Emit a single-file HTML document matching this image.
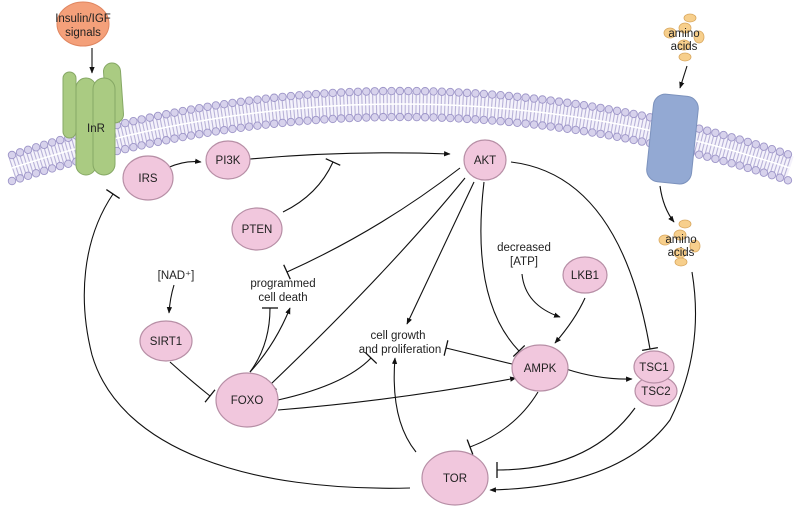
<!DOCTYPE html>
<html><head><meta charset="utf-8"><style>
html,body{margin:0;padding:0;background:#fff;}
svg{display:block;font-family:"Liberation Sans",sans-serif;}
text{font-size:11.5px;fill:#222;text-anchor:middle;}
.n{fill:#f1c7dd;stroke:#b78fa6;stroke-width:1.2;}
.e{fill:none;stroke:#111;stroke-width:1.1;}
.aa{fill:#f7cf8c;stroke:#d9a860;stroke-width:0.8;}
.g{fill:#aacb82;stroke:#86a865;stroke-width:1;}
</style></head><body>
<svg width="800" height="508" viewBox="0 0 800 508">
<defs>
<marker id="ar" viewBox="0 0 10 10" refX="9" refY="5" markerWidth="6" markerHeight="6" orient="auto"><path d="M0,1 L10,5 L0,9 z" fill="#111"/></marker>
<marker id="bar" viewBox="0 0 4 16" refX="2" refY="8" markerWidth="4" markerHeight="16" markerUnits="userSpaceOnUse" orient="auto"><path d="M2,0 L2,16" stroke="#111" stroke-width="1.3"/></marker>
</defs>
<!-- membrane -->
<path d="M12,168 Q400,40 790,168" fill="none" stroke="#f4f2fb" stroke-width="24"/>
<path d="M12,168 Q400,40 790,168" fill="none" stroke="#b8b2d8" stroke-width="22" stroke-dasharray="1.1 2.5"/>
<path d="M12,168 Q400,40 790,168" fill="none" stroke="#fff" stroke-width="1.5"/>
<path d="M12,155 Q400,27 790,155" fill="none" stroke="#9d95c8" stroke-width="8.4" stroke-linecap="round" stroke-dasharray="0 8.4"/>
<path d="M12,155 Q400,27 790,155" fill="none" stroke="#d7d2ec" stroke-width="6.6" stroke-linecap="round" stroke-dasharray="0 8.4"/>
<path d="M12,181 Q400,53 790,181" fill="none" stroke="#9d95c8" stroke-width="8.4" stroke-linecap="round" stroke-dasharray="0 8.4"/>
<path d="M12,181 Q400,53 790,181" fill="none" stroke="#d7d2ec" stroke-width="6.6" stroke-linecap="round" stroke-dasharray="0 8.4"/>
<!-- InR -->
<rect class="g" x="63" y="72" width="13" height="66" rx="6.5"/>
<rect class="g" x="105" y="63" width="17" height="60" rx="8.5" transform="rotate(-4 113 93)"/>
<rect class="g" x="76" y="78" width="20" height="97" rx="10"/>
<rect class="g" x="93" y="78" width="22" height="97" rx="11"/>
<text x="96" y="132">InR</text>
<!-- insulin -->
<ellipse cx="83" cy="24" rx="26" ry="22" fill="#f4a07a" stroke="#e08660"/>
<text x="83" y="22">Insulin/IGF</text>
<text x="83" y="36">signals</text>
<path class="e" d="M92,48 L92,73" marker-end="url(#ar)"/>
<!-- transporter -->
<rect x="650" y="95" width="45" height="88" rx="12" fill="#93a9d3" stroke="#7c92bd" transform="rotate(6 672 139)"/>
<!-- amino acids top -->
<ellipse class="aa" cx="690" cy="18" rx="6" ry="4"/>
<ellipse class="aa" cx="670" cy="33" rx="6" ry="5"/>
<ellipse class="aa" cx="685" cy="28" rx="6" ry="5"/>
<ellipse class="aa" cx="699" cy="37" rx="5" ry="6"/>
<ellipse class="aa" cx="684" cy="45" rx="6" ry="5"/>
<ellipse class="aa" cx="685" cy="57" rx="6" ry="4"/>
<text x="684" y="37">amino</text>
<text x="684" y="50">acids</text>
<path class="e" d="M687,66 L680,88" marker-end="url(#ar)"/>
<path class="e" d="M660,186 Q663,208 674,222" marker-end="url(#ar)"/>
<!-- amino acids bottom -->
<ellipse class="aa" cx="685" cy="224" rx="6" ry="4"/>
<ellipse class="aa" cx="665" cy="240" rx="6" ry="5"/>
<ellipse class="aa" cx="680" cy="235" rx="6" ry="5"/>
<ellipse class="aa" cx="695" cy="246" rx="5" ry="6"/>
<ellipse class="aa" cx="680" cy="253" rx="6" ry="5"/>
<ellipse class="aa" cx="681" cy="262" rx="6" ry="4"/>
<text x="681" y="243">amino</text>
<text x="681" y="256">acids</text>
<!-- edges -->
<path class="e" d="M167,168 Q185,160 201,162" marker-end="url(#ar)"/>
<path class="e" d="M250,159 Q350,150 450,154" marker-end="url(#ar)"/>
<path class="e" d="M283,212 Q318,195 333,162" marker-end="url(#bar)"/>
<path class="e" d="M511,162 Q620,175 650,349" marker-end="url(#bar)"/>
<path class="e" d="M460,168 Q380,230 287,272" marker-end="url(#bar)"/>
<path class="e" d="M465,178 Q390,270 271,384" marker-end="url(#bar)"/>
<path class="e" d="M474,182 L407,324" marker-end="url(#ar)"/>
<path class="e" d="M484,182 Q470,300 519,351" marker-end="url(#bar)"/>
<path class="e" d="M522,274 Q525,305 560,317" marker-end="url(#ar)"/>
<path class="e" d="M585,298 Q575,320 555,343" marker-end="url(#ar)"/>
<path class="e" d="M566,369 Q600,380 632,379" marker-end="url(#ar)"/>
<path class="e" d="M512,364 L446,348" marker-end="url(#bar)"/>
<path class="e" d="M278,410 Q400,400 516,378" marker-end="url(#ar)"/>
<path class="e" d="M278,400 Q345,385 371,358" marker-end="url(#bar)"/>
<path class="e" d="M250,372 Q275,345 290,308" marker-end="url(#ar)"/>
<path class="e" d="M250,372 Q270,345 270,308" marker-end="url(#bar)"/>
<path class="e" d="M174,285 Q170,298 169,313" marker-end="url(#ar)"/>
<path class="e" d="M170,362 Q190,380 210,396" marker-end="url(#bar)"/>
<path class="e" d="M538,392 Q515,430 470,447" marker-end="url(#bar)"/>
<path class="e" d="M635,408 Q590,470 497,470" marker-end="url(#bar)"/>
<path class="e" d="M692,272 Q705,350 670,420 Q620,487 490,490" marker-end="url(#ar)"/>
<path class="e" d="M416,452 Q390,420 395,358" marker-end="url(#ar)"/>
<path class="e" d="M410,488 C250,492 120,450 92,355 C78,300 82,240 113,194" marker-end="url(#bar)"/>
<!-- nodes -->
<ellipse class="n" cx="148" cy="178" rx="25" ry="22"/><text x="148" y="182">IRS</text>
<ellipse class="n" cx="228" cy="160" rx="22" ry="19"/><text x="228" y="164">PI3K</text>
<ellipse class="n" cx="257" cy="229" rx="25" ry="21"/><text x="257" y="233">PTEN</text>
<ellipse class="n" cx="485" cy="160" rx="21" ry="20"/><text x="485" y="164">AKT</text>
<ellipse class="n" cx="166" cy="341" rx="26" ry="20"/><text x="166" y="345">SIRT1</text>
<ellipse class="n" cx="247" cy="400" rx="31" ry="27"/><text x="247" y="404">FOXO</text>
<ellipse class="n" cx="540" cy="368" rx="28" ry="23"/><text x="540" y="372">AMPK</text>
<ellipse class="n" cx="455" cy="478" rx="33" ry="27"/><text x="455" y="482">TOR</text>
<ellipse class="n" cx="585" cy="275" rx="22" ry="18"/><text x="585" y="279">LKB1</text>
<ellipse class="n" cx="656" cy="391" rx="21" ry="15"/><text x="656" y="395">TSC2</text>
<ellipse class="n" cx="654" cy="367" rx="20" ry="16"/><text x="654" y="371">TSC1</text>
<!-- labels -->
<text x="176" y="279">[NAD⁺]</text>
<text x="283" y="287">programmed</text>
<text x="283" y="301">cell death</text>
<text x="398" y="339">cell growth</text>
<text x="400" y="353">and proliferation</text>
<text x="524" y="251">decreased</text>
<text x="524" y="265">[ATP]</text>
</svg>
</body></html>
